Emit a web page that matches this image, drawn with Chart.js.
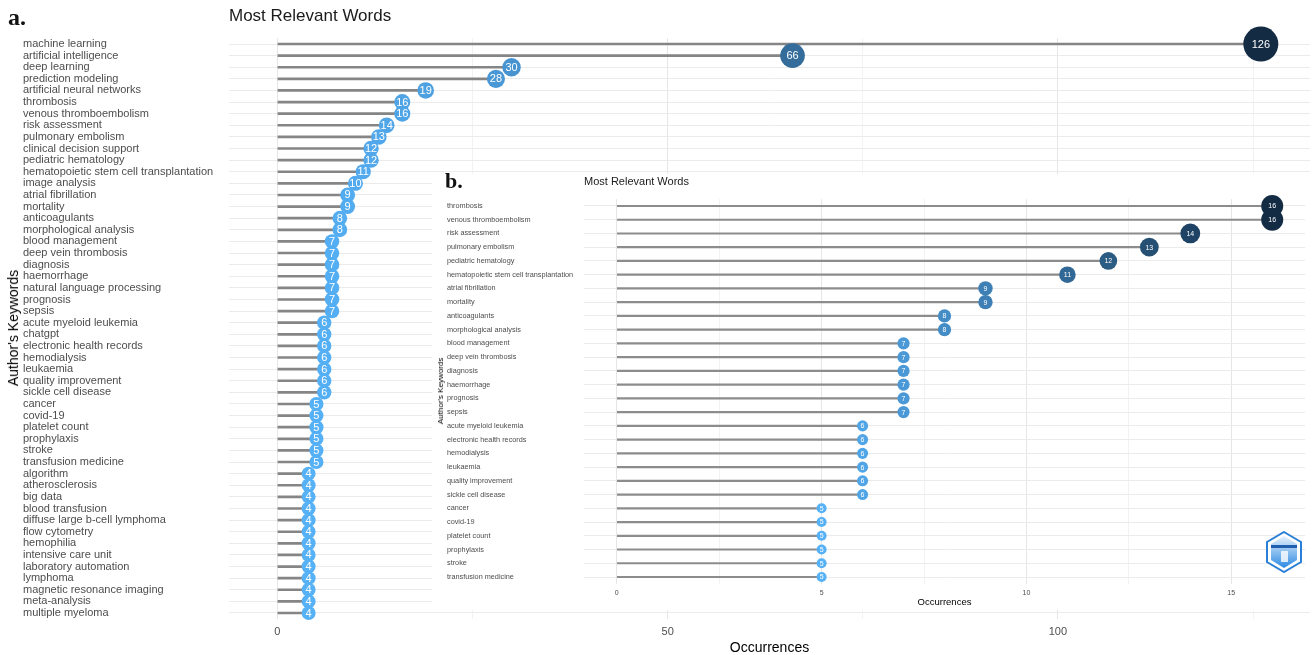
<!DOCTYPE html>
<html>
<head>
<meta charset="utf-8">
<script src="https://cdn.jsdelivr.net/npm/chart.js@4.4.1/dist/chart.umd.min.js"></script>
<style>
  html, body { margin: 0; padding: 0; background: #fff; }
  #wrap { position: relative; width: 1314px; height: 655px; overflow: hidden; font-family: 'Liberation Sans', Arial, sans-serif; }
  canvas { position: absolute; left: 0; top: 0; }
  #inset { position: absolute; left: 432px; top: 174px; width: 882px; height: 436px; background: #fff; }
  .panel { position: absolute; font-family: 'Liberation Serif', 'DejaVu Serif', serif; font-weight: bold; line-height: 1; color: #111; }
  .title { position: absolute; font-family: 'Liberation Sans', Arial, sans-serif; line-height: 1; color: #1a1a1a; white-space: nowrap; }
  .ytitle { position: absolute; font-family: 'Liberation Sans', Arial, sans-serif; line-height: 1; color: #000; white-space: nowrap; transform: translate(-50%, -50%) rotate(-90deg); }
</style>
</head>
<body>
<div id="wrap">
  <canvas id="mainChart" width="1314" height="655"></canvas>
  <div id="inset"><canvas id="insetChart" width="882" height="436"></canvas></div>

  <div class="panel" style="left:8px; top:5px; font-size:24px;">a.</div>
  <div class="title" style="left:229px; top:7px; font-size:17px;">Most Relevant Words</div>
  <div class="ytitle" style="left:13px; top:328px; font-size:14px;">Author's Keywords</div>

  <div class="panel" style="left:445px; top:170px; font-size:22px;">b.</div>
  <div class="title" style="left:584px; top:176px; font-size:11px;">Most Relevant Words</div>
  <div class="ytitle" style="left:441px; top:391px; font-size:8px;">Author's Keywords</div>

  <svg width="36" height="42" viewBox="0 0 36 42" style="position:absolute; left:1266px; top:531px;">
    <defs>
      <linearGradient id="lg" x1="0" y1="0" x2="0" y2="1">
        <stop offset="0" stop-color="#e6f2fd"/>
        <stop offset="1" stop-color="#2d8ae2"/>
      </linearGradient>
    </defs>
    <polygon points="18,1 35,11 35,31 18,41 1,31 1,11" fill="#fff" stroke="#2a7fd6" stroke-width="2"/>
    <polygon points="18,5 31,13 31,29 18,37 5,29 5,13" fill="url(#lg)"/>
    <rect x="5" y="14" width="26" height="3" fill="#1f5fae"/>
    <rect x="15" y="20" width="7" height="11" fill="#fff" opacity="0.8"/>
  </svg>
</div>

<script>
// panel a: top 50 author keywords
const mainWords = [
  'machine learning', 'artificial intelligence', 'deep learning', 'prediction modeling',
  'artificial neural networks', 'thrombosis', 'venous thromboembolism', 'risk assessment',
  'pulmonary embolism', 'clinical decision support', 'pediatric hematology',
  'hematopoietic stem cell transplantation', 'image analysis', 'atrial fibrillation',
  'mortality', 'anticoagulants', 'morphological analysis', 'blood management',
  'deep vein thrombosis', 'diagnosis', 'haemorrhage', 'natural language processing',
  'prognosis', 'sepsis', 'acute myeloid leukemia', 'chatgpt', 'electronic health records',
  'hemodialysis', 'leukaemia', 'quality improvement', 'sickle cell disease', 'cancer',
  'covid-19', 'platelet count', 'prophylaxis', 'stroke', 'transfusion medicine',
  'algorithm', 'atherosclerosis', 'big data', 'blood transfusion',
  'diffuse large b-cell lymphoma', 'flow cytometry', 'hemophilia', 'intensive care unit',
  'laboratory automation', 'lymphoma', 'magnetic resonance imaging', 'meta-analysis',
  'multiple myeloma'
];
const mainCounts = [
  126, 66, 30, 28, 19, 16, 16, 14, 13, 12, 12, 11, 10, 9, 9, 8, 8,
  7, 7, 7, 7, 7, 7, 7,
  6, 6, 6, 6, 6, 6, 6,
  5, 5, 5, 5, 5, 5,
  4, 4, 4, 4, 4, 4, 4, 4, 4, 4, 4, 4, 4
];
const mainTicks = [0, 50, 100];

// panel b: haematology-specific keywords
const insetWords = [
  'thrombosis', 'venous thromboembolism', 'risk assessment', 'pulmonary embolism',
  'pediatric hematology', 'hematopoietic stem cell transplantation', 'atrial fibrillation',
  'mortality', 'anticoagulants', 'morphological analysis', 'blood management',
  'deep vein thrombosis', 'diagnosis', 'haemorrhage', 'prognosis', 'sepsis',
  'acute myeloid leukemia', 'electronic health records', 'hemodialysis', 'leukaemia',
  'quality improvement', 'sickle cell disease', 'cancer', 'covid-19', 'platelet count',
  'prophylaxis', 'stroke', 'transfusion medicine'
];
const insetCounts = [
  16, 16, 14, 13, 12, 11, 9, 9, 8, 8,
  7, 7, 7, 7, 7, 7,
  6, 6, 6, 6, 6, 6,
  5, 5, 5, 5, 5, 5
];
const insetTicks = [0, 5, 10, 15];

Chart.defaults.font.family = "'Liberation Sans', Arial, sans-serif";

// light blue -> dark navy, like ggplot's default gradient reversed
const LOW = [0x56, 0xB1, 0xF7];
const HIGH = [0x13, 0x2B, 0x43];
function shade(t) {
  return 'rgb(' + LOW.map((c, i) => Math.round(c + (HIGH[i] - c) * t)).join(',') + ')';
}

// white count text inside every circle
const valueLabels = {
  id: 'valueLabels',
  afterDatasetsDraw(chart, args, opts) {
    const meta = chart.getDatasetMeta(0);
    const data = chart.data.datasets[0].data;
    const ctx = chart.ctx;
    ctx.save();
    ctx.fillStyle = '#fff';
    ctx.font = opts.size + "px 'Liberation Sans', Arial, sans-serif";
    ctx.textAlign = 'center';
    ctx.textBaseline = 'middle';
    meta.data.forEach((pt, i) => ctx.fillText(String(data[i]), pt.x, pt.y + 0.5));
    ctx.restore();
  }
};

function drawLollipop(canvasId, words, counts, tickLabels, o) {
  const lo = Math.min(...counts), hi = Math.max(...counts);
  const radii = counts.map(v => o.rMin + (o.rMax - o.rMin) * (v - lo) / (hi - lo));
  const colors = counts.map(v => shade((v - lo) / (hi - lo)));

  const ctx = document.getElementById(canvasId).getContext('2d');
  return new Chart(ctx, {
    type: 'bar',
    data: {
      labels: words,
      datasets: [
        {
          type: 'line', data: counts, showLine: false, clip: false, order: 0,
          pointRadius: radii, pointHoverRadius: radii,
          pointBackgroundColor: colors, pointBorderWidth: 0
        },
        {
          type: 'bar', data: counts, order: 1,
          backgroundColor: o.segColor, barThickness: o.segWidth, borderWidth: 0
        }
      ]
    },
    options: {
      indexAxis: 'y',
      responsive: false,
      animation: false,
      events: [],
      layout: {
        autoPadding: false,
        padding: { left: o.padLeft, right: o.padRight, top: o.padTop, bottom: 0 }
      },
      scales: {
        x: {
          type: 'linear', min: o.xMin, max: o.xMax,
          border: { display: false },
          grid: {
            drawTicks: false, lineWidth: 1,
            color: c => (c.tick && tickLabels.includes(c.tick.value)) ? '#e6e6e6' : '#f2f2f2'
          },
          ticks: {
            stepSize: o.step, includeBounds: false, autoSkip: false, maxRotation: 0,
            padding: o.tickPad, color: '#4d4d4d', font: { size: o.tickSize },
            callback: v => tickLabels.includes(v) ? String(v) : ''
          },
          title: {
            display: true, text: 'Occurrences', color: '#000',
            font: { size: o.xTitleSize }, padding: { top: 0, bottom: o.xTitlePad }
          },
          afterFit: s => { s.height = o.xHeight; }
        },
        y: {
          type: 'category',
          border: { display: false },
          grid: { color: '#ebebeb', offset: false, drawTicks: false, lineWidth: 1 },
          ticks: {
            autoSkip: false, crossAlign: 'far', padding: 0,
            color: '#4d4d4d', font: { size: o.labelSize, lineHeight: 1 }
          },
          afterFit: s => { s.width = o.yWidth; }
        }
      },
      plugins: {
        legend: { display: false },
        tooltip: { enabled: false },
        valueLabels: { size: o.valueSize }
      }
    },
    plugins: [valueLabels]
  });
}

drawLollipop('mainChart', mainWords, mainCounts, mainTicks, {
  padLeft: 23, padRight: 4, padTop: 38.2, yWidth: 206, xHeight: 36.2,
  xMin: -6.2, xMax: 132.3, step: 25,
  tickPad: 7, tickSize: 11, xTitleSize: 14, xTitlePad: -2,
  labelSize: 11, valueSize: 11,
  rMin: 7, rMax: 17.5, segColor: '#858585', segWidth: 2
});

drawLollipop('insetChart', insetWords, insetCounts, insetTicks, {
  padLeft: 15, padRight: 9, padTop: 25.1, yWidth: 137, xHeight: 26.1,
  xMin: -0.8, xMax: 16.8, step: 2.5,
  tickPad: 5, tickSize: 7, xTitleSize: 9.5, xTitlePad: 2.3,
  labelSize: 7.3, valueSize: 7,
  rMin: 5, rMax: 11, segColor: '#8c8c8c', segWidth: 1.5
});
</script>
</body>
</html>
